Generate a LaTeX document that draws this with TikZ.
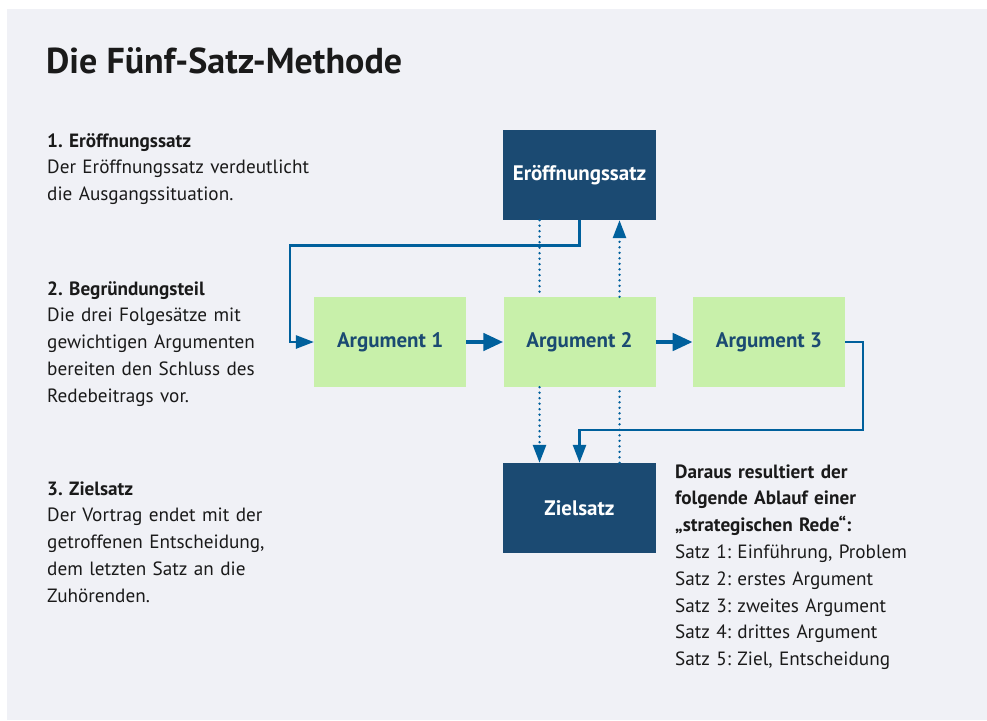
\documentclass[tikz,border=0pt]{standalone}
\usepackage{fontspec}
\setmainfont{PT Sans}
\usepackage{xcolor}
\usepackage{tikz}
\definecolor{panelgray}{HTML}{F0F1F6}
\definecolor{boxnavy}{HTML}{1B4A72}
\definecolor{argreen}{HTML}{C8F0AA}
\definecolor{flowblue}{HTML}{00609C}
\definecolor{inkdark}{HTML}{1A1A1A}
\usetikzlibrary{arrows.meta, positioning, calc}
\frenchspacing

\begin{document}
\begin{tikzpicture}[x=1pt, y=-1pt,
  darkbox/.style={rectangle, fill=boxnavy, text=white, minimum width=153pt, minimum height=90pt, inner sep=0pt, font=\fontsize{21}{24}\selectfont\bfseries},
  argbox/.style={rectangle, fill=argreen, text=boxnavy, minimum width=152pt, minimum height=90pt, inner sep=0pt, font=\fontsize{21}{24}\selectfont\bfseries},
  flow/.style={draw=flowblue, line width=2.6pt, -{Triangle[length=18pt, width=13pt]}},
  bigflow/.style={draw=flowblue, line width=4.5pt, -{Triangle[length=20pt, width=17pt]}},
  dotline/.style={draw=flowblue, line width=2.6pt, line cap=round, dash pattern=on 0pt off 5.5pt},
  txt/.style={anchor=base west, inner sep=0pt, text width=320pt, align=left, text=inkdark, font=\fontsize{19.2}{26.8}\selectfont}
]
% page and panel
\useasboundingbox (0,0) rectangle (987,720);
\fill[white] (0,0) rectangle (987,720);
\fill[panelgray] (7,9) rectangle (987,720);

% title
\node[anchor=base west, inner sep=0pt, text=inkdark, font=\fontsize{36}{40}\selectfont\bfseries] (title) at (46,73) {Die Fünf-Satz-Methode};

% left column
\node[txt] (step1) at (47,147) {\textbf{1. Eröffnungssatz}\\Der Eröffnungssatz verdeutlicht\\die Ausgangssituation.};
\node[txt] (step2) at (47,295) {\textbf{2. Begründungsteil}\\Die drei Folgesätze mit\\gewichtigen Argumenten\\bereiten den Schluss des\\Redebeitrags vor.};
\node[txt] (step3) at (47,495) {\textbf{3. Zielsatz}\\Der Vortrag endet mit der\\getroffenen Entscheidung,\\dem letzten Satz an die\\Zuhörenden.};

% boxes
\node[darkbox] (eroeff) at (579.5,175) {Eröffnungssatz};
\node[argbox] (arg2) at (579.5,342) {Argument 2};
\node[argbox, left=37pt of arg2] (arg1) {Argument 1};
\node[argbox, right=37pt of arg2] (arg3) {Argument 3};
\node[darkbox] (ziel) at (579.5,508) {Zielsatz};

% summary
\node[txt] (ablauf) at (675,478) {\textbf{Daraus resultiert der}\\\textbf{folgende Ablauf einer}\\\textbf{„strategischen Rede“:}\\Satz 1: Einführung, Problem\\Satz 2: erstes Argument\\Satz 3: zweites Argument\\Satz 4: drittes Argument\\Satz 5: Ziel, Entscheidung};

% solid connectors
\draw[flow] (eroeff.south) -- ++(0,25) -| ($(arg1.west)+(-24,0)$) -- (arg1.west);
\draw[bigflow] (arg1.east) -- (arg2.west);
\draw[bigflow] (arg2.east) -- (arg3.west);
\draw[flow] (arg3.east) -- ++(18,0) |- ($(ziel.north)+(0,-33)$) -- (ziel.north);

% dotted connectors
\coordinate (eroeffL) at ($(eroeff.south)+(-40,0)$);
\coordinate (eroeffR) at ($(eroeff.south)+(40,0)$);
\coordinate (zielL) at ($(ziel.north)+(-40,0)$);
\coordinate (zielR) at ($(ziel.north)+(40,0)$);
\draw[dotline] (eroeffL) -- (eroeffL |- arg2.north);
\draw[dotline, -{Triangle[length=18pt, width=13pt]}] (eroeffR |- arg2.north) -- (eroeffR);
\draw[dotline, -{Triangle[length=18pt, width=13pt]}] (zielL |- arg2.south) -- (zielL);
\draw[dotline] (zielR) -- (zielR |- arg2.south);
\end{tikzpicture}
\end{document}
